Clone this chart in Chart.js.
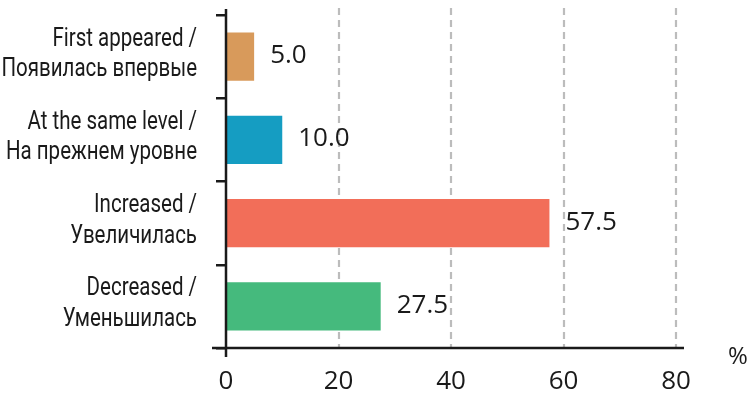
<!DOCTYPE html>
<html>
<head>
<meta charset="utf-8">
<script src="https://cdn.jsdelivr.net/npm/chart.js@4/dist/chart.umd.min.js"></script>
<style>
  html, body { margin: 0; padding: 0; background: #fff; }
</style>
</head>
<body>
<canvas id="chart-dinamika" width="755" height="398"></canvas>
<script>
const categories = [
  ['First appeared /', 'Появилась впервые'],
  ['At the same level /', 'На прежнем уровне'],
  ['Increased /', 'Увеличилась'],
  ['Decreased /', 'Уменьшилась']
];
const values = [5.0, 10.0, 57.5, 27.5];
const barColors = ['#d89a5b', '#159dc2', '#f26e59', '#45ba7d'];
const xTicks = [0, 20, 40, 60, 80];
const unitLabel = '%';

const numFont = '"Open Sans", "DejaVu Sans", sans-serif';
const labelFont = 'Roboto, "DejaVu Sans", sans-serif';

// axis lines, dashed grid, category labels, value labels and the % sign
const decor = {
  id: 'decor',
  beforeDatasetsDraw(chart) {
    const { ctx, chartArea: a, scales: { x } } = chart;
    ctx.save();
    ctx.strokeStyle = '#bcbcbc';
    ctx.lineWidth = 2.2;
    ctx.setLineDash([7, 5]);
    xTicks.slice(1).forEach(v => {
      const px = Math.round(x.getPixelForValue(v));
      ctx.beginPath();
      ctx.moveTo(px, a.top - 7);
      ctx.lineTo(px, a.bottom);
      ctx.stroke();
    });
    ctx.restore();
  },
  afterDatasetsDraw(chart) {
    const { ctx, chartArea: a, scales: { x, y } } = chart;
    const x0 = x.getPixelForValue(0);
    ctx.save();
    ctx.strokeStyle = '#1a1a1a';
    ctx.lineWidth = 2.5;
    ctx.beginPath();
    ctx.moveTo(x0, a.top - 6);
    ctx.lineTo(x0, a.bottom + 9);
    ctx.moveTo(x0 - 14, a.bottom);
    ctx.lineTo(x.getPixelForValue(80) + 8, a.bottom);
    ctx.stroke();

    // narrow category labels, right aligned left of the tick marks
    ctx.fillStyle = '#1a1a1a';
    ctx.font = '25px ' + labelFont;
    ctx.textAlign = 'right';
    ctx.textBaseline = 'middle';
    categories.forEach((lines, i) => {
      const cy = y.getPixelForTick(i) - 2;
      lines.forEach((t, j) => {
        ctx.save();
        ctx.translate(a.left - 29, cy + (j - 0.5) * 30.5);
        ctx.scale(0.82, 1);
        ctx.fillText(t, 0, 0);
        ctx.restore();
      });
    });

    ctx.font = '26px ' + numFont;
    ctx.textAlign = 'left';
    chart.getDatasetMeta(0).data.forEach((bar, i) => {
      ctx.fillText(values[i].toFixed(1), bar.x + 16, bar.y - 1);
    });

    ctx.font = '24px ' + numFont;
    ctx.textAlign = 'center';
    ctx.fillText(unitLabel, a.right + 62, a.bottom + 9);
    ctx.restore();
  }
};

new Chart(
  document.getElementById('chart-dinamika'),
  {
    type: 'bar',
    data: {
      labels: categories,
      datasets: [
        {
          data: values,
          backgroundColor: barColors,
          borderWidth: 0,
          barPercentage: 0.577,
          categoryPercentage: 1
        }
      ]
    },
    options: {
      indexAxis: 'y',
      responsive: false,
      animation: false,
      layout: { padding: { top: 15, right: 79, bottom: 0, left: 0 } },
      plugins: {
        legend: { display: false },
        tooltip: { enabled: false }
      },
      scales: {
        x: {
          min: 0,
          max: 80,
          afterBuildTicks: s => { s.ticks = xTicks.map(v => ({ value: v })); },
          afterFit: s => { s.height = 50; },
          grid: { display: false },
          border: { display: false },
          ticks: {
            padding: 10,
            color: '#1a1a1a',
            font: { family: numFont, size: 26 }
          }
        },
        y: {
          afterFit: s => { s.width = 226; },
          grid: {
            offset: true,
            drawOnChartArea: false,
            drawTicks: true,
            tickLength: 10,
            color: '#1a1a1a',
            lineWidth: 2.5
          },
          border: { display: false },
          ticks: { display: false }
        }
      }
    },
    plugins: [decor]
  }
);
</script>
</body>
</html>
